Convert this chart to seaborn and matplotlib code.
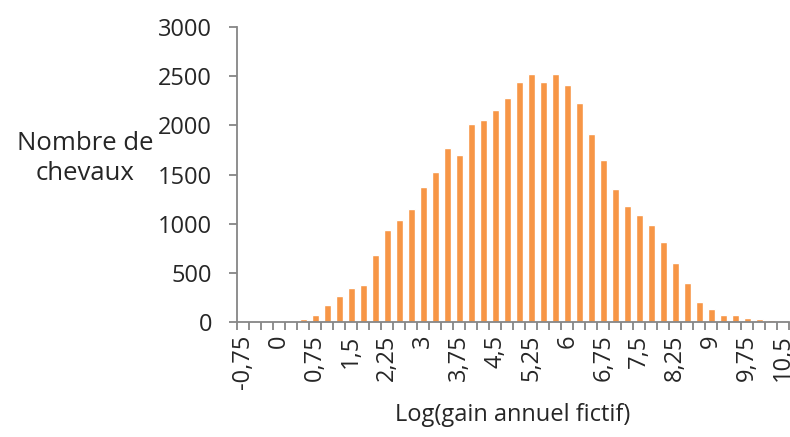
import matplotlib
matplotlib.use("Agg")
import matplotlib.pyplot as plt
import seaborn as sns
import pandas as pd
import numpy as np

categories = [-0.75, -0.5, -0.25, 0, 0.25, 0.5, 0.75, 1.0, 1.25, 1.5, 1.75, 2.0, 2.25, 2.5,
              2.75, 3.0, 3.25, 3.5, 3.75, 4.0, 4.25, 4.5, 4.75, 5.0, 5.25, 5.5, 5.75, 6.0,
              6.25, 6.5, 6.75, 7.0, 7.25, 7.5, 7.75, 8.0, 8.25, 8.5, 8.75, 9.0, 9.25, 9.5,
              9.75, 10.0, 10.25, 10.5]
counts = [10, 0, 0, 10, 10, 34, 75, 170, 268, 346, 373, 681, 936, 1041,
          1153, 1373, 1525, 1770, 1698, 2014, 2054, 2159, 2278, 2437, 2526, 2441, 2526, 2410,
          2227, 1915, 1648, 1349, 1183, 1085, 986, 814, 603, 397, 200, 132, 75, 68,
          41, 30, 24, 14]
y_ticks = [0, 500, 1000, 1500, 2000, 2500, 3000]

def fmt(v):
    return ("%g" % v).replace(".", ",")

labels = [fmt(c) for c in categories]
df = pd.DataFrame({"cat": labels, "count": counts})

sns.set_style("white")
plt.rcParams["font.family"] = ["Open Sans", "DejaVu Sans"]

fig = plt.figure(figsize=(7.9, 4.37), dpi=100)
ax = fig.add_axes([0.3, 0.263, 0.699, 0.675])
sns.barplot(data=df, x="cat", y="count", color="#F79646", width=0.58,
            saturation=1, ax=ax, order=labels)

gray = "#868686"
for s in ["top", "right"]:
    ax.spines[s].set_visible(False)
for s in ["left", "bottom"]:
    ax.spines[s].set_color(gray)
    ax.spines[s].set_linewidth(1.3)

n = len(labels)
ax.set_xlim(-0.5, n - 0.5)
ax.set_ylim(0, 3000)
ax.set_yticks(y_ticks)
ax.set_yticklabels([str(t) for t in y_ticks], fontsize=17)
ax.tick_params(axis="y", direction="out", length=6, color=gray, width=1.3, pad=12, left=True)

major = list(range(0, n, 3))
ax.set_xticks(major)
ax.set_xticklabels([labels[i] for i in major], rotation=90, fontsize=17)
ax.tick_params(axis="x", which="major", length=0, pad=9)
ax.set_xticks(np.arange(-0.5, n, 1.0), minor=True)
ax.tick_params(axis="x", which="minor", direction="out", length=6, color=gray, width=1.3, bottom=True)

ax.set_xlabel("Log(gain annuel fictif)", fontsize=17, labelpad=10)
ax.set_ylabel("")
fig.text(0.108, 0.638, "Nombre de\nchevaux", ha="center", va="center", fontsize=18.5,
         linespacing=1.25)

fig.savefig("out.png", dpi=100)
